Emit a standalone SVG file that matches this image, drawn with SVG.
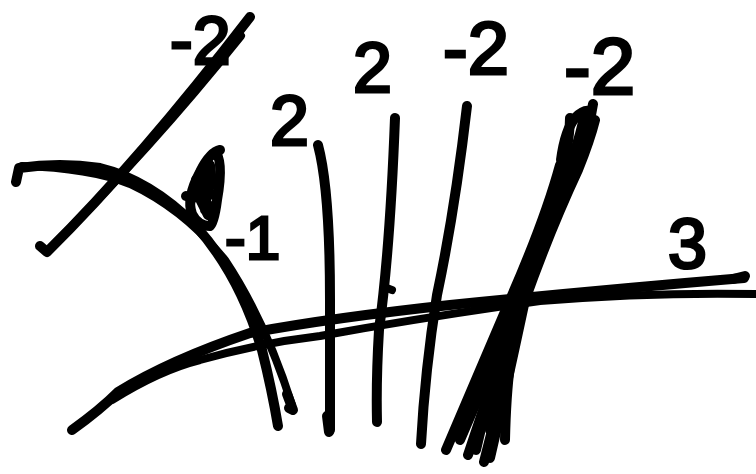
<svg xmlns="http://www.w3.org/2000/svg" width="756" height="474" viewBox="0 0 756 474">
<style>
.s{fill:none;stroke:#000;stroke-width:10;stroke-linecap:round;stroke-linejoin:round}
.t{stroke-width:8}
.lbl{font-family:"Liberation Sans",Arial,sans-serif;fill:#000;stroke:#000;stroke-width:3}
</style>
<rect width="756" height="474" fill="#fff"/>
<g id="diagonal">
<path class="s" d="M40,246 L47,252 Q140,160 250,17"/>
<path class="s t" d="M50,248 Q150,150 241,36"/>
</g>
<g id="arc">
<path class="s" d="M16,182 L19,168 Q60,162 100,168 Q150,180 195,225 Q240,275 262,350 Q272,390 278,426"/>
<path class="s t" d="M22,166 Q90,168 130,184 Q185,210 225,260 Q265,320 292,405"/>
<path class="s" d="M287,394 L293,410 L289,408"/>
</g>
<g id="baseline">
<path class="s" d="M72,430 Q100,410 118,392 Q170,360 250,333 Q330,318 450,305 Q600,290 744,278"/>
<path class="s t" d="M112,400 Q160,370 200,360 Q260,343 320,336 Q420,318 540,301 Q650,292 756,294"/>
<path class="s" d="M733,279 L745,276"/>
</g>
<g id="vertical1">
<path class="s" d="M318,145 Q330,190 330,300 Q330,380 330,430"/>
<path class="s" d="M327,416 L329,432"/>
</g>
<g id="vertical2">
<path class="s" d="M395,118 Q390,250 379,330 Q376,380 377,422"/>
<path class="s t" d="M384,287 L392,290"/>
</g>
<g id="vertical3">
<path class="s" d="M467,106 Q455,210 437,295 Q425,370 421,444"/>
</g>
<g id="bundle">
<path class="s" d="M446,450 Q480,370 510,300 Q545,220 560,165"/>
<path class="s" d="M468,455 Q500,360 525,290 Q555,210 580,150 Q590,125 593,104"/>
<path class="s" d="M484,462 Q505,380 522,310 Q545,230 572,160 Q582,130 585,112"/>
<path class="s" d="M476,450 Q492,380 515,300 Q540,230 566,155 Q570,130 570,118"/>
<path class="s" d="M490,458 Q508,380 525,300 Q550,230 578,170 Q590,140 595,120"/>
<path class="s" d="M460,440 Q495,360 518,300 Q545,230 565,190"/>
<path class="s" d="M472,446 Q500,360 520,300 Q545,225 575,160"/>
<path class="s" d="M530,280 Q550,220 575,175 M535,270 Q555,210 585,140 M520,285 Q540,230 556,195"/>
<path class="s" d="M505,440 Q506,395 510,365"/>
<path class="s" d="M561,160 Q565,130 575,118 Q585,108 591,112"/>
<path class="s" d="M490,430 Q503,370 512,340"/>
</g>
<g id="loop">
<path class="s" d="M215,152 Q224,160 217,200 Q214,224 210,226 Q198,226 192,214 Q186,198 200,172 Q210,152 220,150"/>
<path class="s" d="M186,196 Q200,200 212,194 M204,168 Q208,190 205,210 M196,180 Q206,205 214,212 M210,165 L212,185 M198,195 L208,215"/>
</g>
<g id="labels">
<text class="lbl" x="170" y="64" font-size="68">-2</text>
<text class="lbl" x="270" y="145" font-size="70">2</text>
<text class="lbl" x="353" y="92" font-size="70">2</text>
<text class="lbl" x="443" y="74" font-size="74">-2</text>
<text class="lbl" x="564" y="94" font-size="80">-2</text>
<text class="lbl" x="225" y="259" font-size="62">-1</text>
<text class="lbl" x="668" y="268" font-size="70">3</text>
</g>
</svg>
